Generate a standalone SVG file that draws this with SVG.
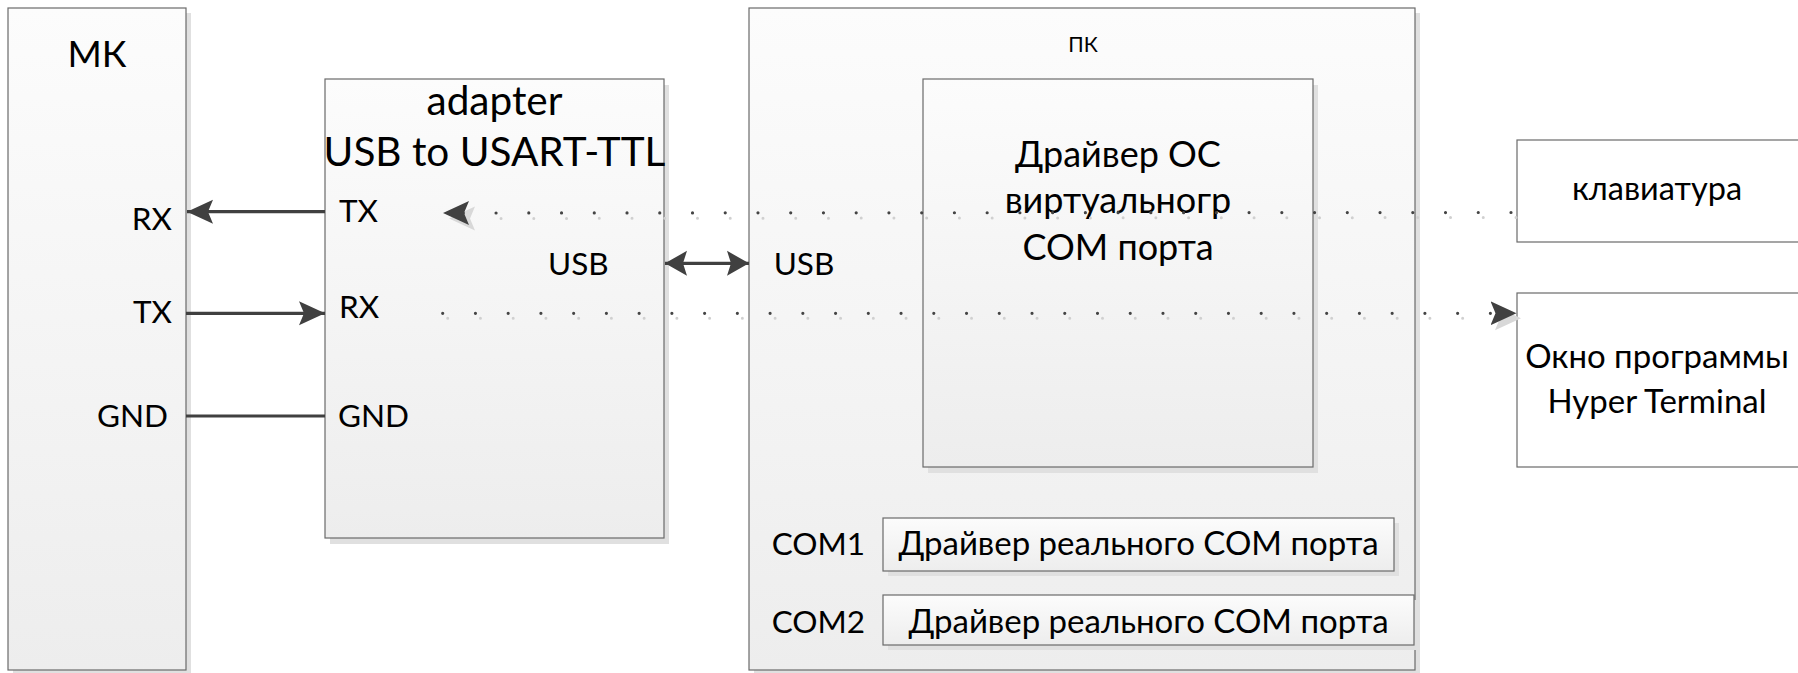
<svg xmlns="http://www.w3.org/2000/svg" width="1798" height="673" viewBox="0 0 1798 673">
<defs>
<linearGradient id="g" x1="0" y1="0" x2="0" y2="1">
<stop offset="0" stop-color="#fcfcfc"/>
<stop offset="1" stop-color="#ededed"/>
</linearGradient>
<marker id="ah" markerUnits="userSpaceOnUse" viewBox="0 0 26 26" markerWidth="26" markerHeight="26" refX="26" refY="13" orient="auto">
<path d="M0,1 L26,13 L0,25 L5,13 Z" fill="#404040"/>
</marker>
<marker id="ahs" markerUnits="userSpaceOnUse" viewBox="0 0 26 26" markerWidth="26" markerHeight="26" refX="26" refY="13" orient="auto">
<path d="M0,1 L26,13 L0,25 L5,13 Z" fill="#d8d8d8"/>
</marker>
<marker id="ah2" markerUnits="userSpaceOnUse" viewBox="0 0 22 26" markerWidth="22" markerHeight="26" refX="22" refY="13" orient="auto-start-reverse">
<path d="M0,0.5 L22,13 L0,25.5 L4,13 Z" fill="#404040"/>
</marker>
</defs>
<style>
.box{fill:url(#g);stroke:#6a6a6a;stroke-width:1.2}
.wbox{fill:#ffffff;stroke:#6a6a6a;stroke-width:1.2}
.sh{fill:#e0e0e0}
text{font-family:Lato,"Open Sans","Noto Sans",sans-serif;fill:#000}
.lbl{font-size:31.5px}
.big{font-size:40.5px}
.mid{font-size:36px}
.drv{font-size:33px}
.mc{text-anchor:middle}
.en{text-anchor:end}
.wire{stroke:#404040;stroke-width:3.2;fill:none}
.dots{stroke:#444444;stroke-width:3.2;stroke-linecap:round;stroke-dasharray:0 32.74;fill:none}
.dsh{stroke:#d0d0d0;stroke-width:3;stroke-linecap:round;stroke-dasharray:0 32.74;fill:none}
</style>

<g id="mk">
<rect class="sh" x="13" y="13" width="178" height="662"/>
<rect class="box" x="8" y="8" width="178" height="662"/>
<text class="mc" x="97" y="66.5" style="font-size:37px">МК</text>
<text class="lbl en" x="172" y="230">RX</text>
<text class="lbl en" x="172" y="323">TX</text>
<text class="lbl en" x="168" y="426.5">GND</text>
</g>

<g id="adapter">
<rect class="sh" x="330" y="85" width="339" height="459"/>
<rect class="box" x="325" y="79" width="339" height="459"/>
<text class="big mc" x="494.5" y="114.5">adapter</text>
<text class="big mc" x="494.5" y="165.5">USB to USART-TTL</text>
<text class="lbl" x="339" y="222">TX</text>
<text class="lbl" x="339" y="318">RX</text>
<text class="lbl" x="338" y="427">GND</text>
<text class="lbl" x="548" y="275">USB</text>
</g>

<g id="pc">
<rect class="sh" x="754" y="13" width="666" height="662"/>
<rect class="box" x="749" y="8" width="666" height="662"/>
<text class="mc" x="1083" y="52" style="font-size:21px">ПК</text>
<text class="lbl" x="773.7" y="275">USB</text>
<text class="lbl" x="771.7" y="555">COM1</text>
<text class="lbl" x="771.7" y="633.3">COM2</text>
</g>

<g id="virtual-driver">
<rect class="sh" x="928" y="85" width="390" height="388"/>
<rect class="box" x="923" y="79" width="390" height="388"/>
<text class="mid mc" x="1118" y="166.7">Драйвер ОС</text>
<text class="mid mc" x="1118" y="213.3">виртуальногр</text>
<text class="mid mc" x="1118" y="260">COM порта</text>
</g>

<g id="com1-driver">
<rect class="sh" x="888" y="523" width="511" height="53"/>
<rect class="box" x="883" y="518" width="511" height="53"/>
<text class="drv mc" x="1138.5" y="555">Драйвер реального COM порта</text>
</g>

<g id="com2-driver">
<rect class="sh" x="888" y="600" width="531" height="50"/>
<rect class="box" x="883" y="595" width="531" height="50"/>
<text class="drv mc" x="1148.5" y="633">Драйвер реального COM порта</text>
</g>

<g id="keyboard">
<rect class="wbox" x="1517" y="140" width="282" height="102"/>
<text class="drv mc" x="1657" y="200" style="font-size:32.5px">клавиатура</text>
</g>

<g id="terminal">
<rect class="wbox" x="1517" y="293" width="282" height="174"/>
<text class="drv mc" x="1657" y="368">Окно программы</text>
<text class="drv mc" x="1657" y="413">Hyper Terminal</text>
</g>

<g id="connectors">
<path class="wire" d="M325,211.7 L187,211.7" marker-end="url(#ah)"/>
<path class="wire" d="M186,313.3 L325,313.3" marker-end="url(#ah)"/>
<path class="wire" d="M186,416 L325,416"/>
<path class="wire" d="M665,263.3 L749,263.3" marker-start="url(#ah2)" marker-end="url(#ah2)"/>
<path class="dsh" d="M1516,217.5 L449,218.5" marker-end="url(#ahs)"/>
<path class="dots" d="M1511,212.5 L443,213" marker-end="url(#ah)"/>
<path class="dsh" d="M447.7,318.3 L1521,318.3" marker-end="url(#ahs)"/>
<path class="dots" d="M442.7,313.3 L1516.5,313.3" marker-end="url(#ah)"/>
</g>
</svg>
